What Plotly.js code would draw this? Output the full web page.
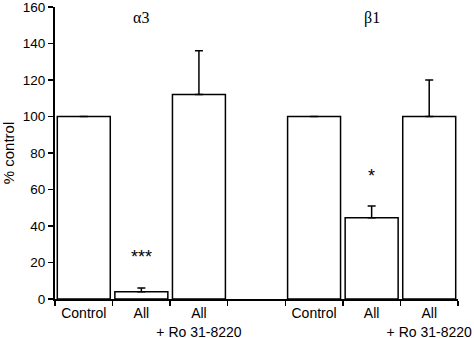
<!DOCTYPE html>
<html><head><meta charset="utf-8">
<script src="https://cdn.plot.ly/plotly-3.0.1.min.js"></script>
<style>html,body{margin:0;padding:0;background:#fff}</style>
</head><body>
<div id="chart" style="width:474px;height:338px"></div>
<script>
// Data
const categories = ["Control", "All", "All<br>+ Ro 31-8220", "", "Control", "All", "All<br>+ Ro 31-8220"];
const values = [100, 4, 112, null, 100, 44.5, 100];
const errorsUp = [null, 2, 24, null, null, 6.5, 20];
const groupTitles = ["α3", "β1"];
const groupTitleSlots = [1, 5];
const sigLabels = ["***", "*"];
const sigSlots = [1, 5];
const sigValues = [23, 67.5];
const yTicks = [0, 20, 40, 60, 80, 100, 120, 140, 160];

const xs = categories.map((c, i) => i);
const boundaries = categories.map((c, i) => i - 0.5).concat([categories.length - 0.5]);

const bar = {
  type: "bar",
  x: xs,
  y: values,
  width: 0.92,
  marker: {color: "#ffffff", line: {color: "#000000", width: 1.5}},
  error_y: {type: "data", symmetric: false, array: errorsUp, arrayminus: errorsUp.map(() => 0),
            visible: true, color: "#000000", thickness: 1.5, width: 4},
  hoverinfo: "none"
};

const annotations = [];
groupTitles.forEach((t, i) => annotations.push({
  x: groupTitleSlots[i], y: 1, xref: "x", yref: "paper", yanchor: "top", text: t, showarrow: false,
  font: {family: "Liberation Serif, Times New Roman, serif", size: 16, color: "#000"}
}));
sigLabels.forEach((t, i) => annotations.push({
  x: sigSlots[i], y: sigValues[i], xref: "x", yref: "y", text: t, showarrow: false,
  font: {family: "Liberation Sans, Arial, sans-serif", size: 18, color: "#000"}
}));

const layout = {
  width: 474, height: 338,
  margin: {l: 55, r: 16, t: 7, b: 39, pad: 0},
  paper_bgcolor: "#fff", plot_bgcolor: "#fff",
  showlegend: false,
  font: {family: "Liberation Sans, Arial, sans-serif", size: 14, color: "#000"},
  xaxis: {
    range: [-0.5, categories.length - 0.5],
    tickmode: "array", tickvals: xs, ticktext: categories,
    ticks: "outside", ticklen: 0, tickcolor: "#000",
    ticklabelstandoff: 1,
    minor: {tickmode: "array", tickvals: boundaries, ticks: "outside", ticklen: 5, tickwidth: 1.5, tickcolor: "#000", showgrid: false},
    showline: true, linecolor: "#000", linewidth: 1.5,
    showgrid: false, zeroline: false, fixedrange: true,
    tickfont: {size: 14}
  },
  yaxis: {
    range: [0, 160],
    tickmode: "array", tickvals: yTicks,
    ticks: "outside", ticklen: 5, tickwidth: 1.5, tickcolor: "#000",
    ticklabeloverflow: "allow",
    showline: true, linecolor: "#000", linewidth: 2,
    showgrid: false, zeroline: false, fixedrange: true,
    title: {text: "% control", font: {size: 15}, standoff: 8},
    tickfont: {size: 13.5}
  },
  annotations: annotations
};

Plotly.newPlot("chart", [bar], layout, {displayModeBar: false, staticPlot: true});
</script>
</body></html>
